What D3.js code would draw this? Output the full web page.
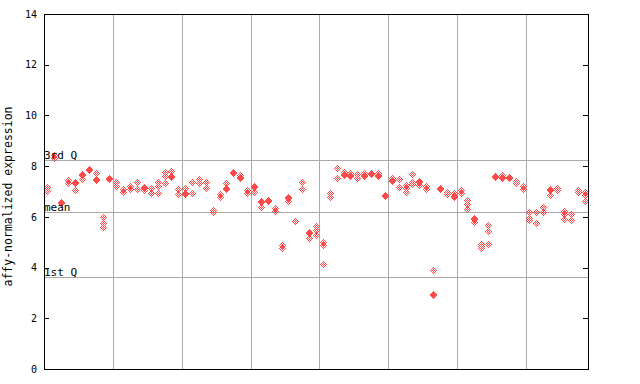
<!DOCTYPE html>
<html><head><meta charset="utf-8">
<script src="https://cdn.jsdelivr.net/npm/d3@7"></script>
<style>body{margin:0;background:#fff}svg{display:block}</style>
</head><body><div id="chart"></div>
<script>
const yTicks = [0, 2, 4, 6, 8, 10, 12, 14];
const refLabels = ["3rd Q", "mean", "1st Q"];
const refValues = [8.23, 6.21, 3.61];
const yTitle = "affy-normalized expression";

const group1 = [[7.19,7.03],[8.44,8.31],[6.6,6.56],[7.45,7.32],[7.37,7.33,7.06],[7.7,7.66,7.48],[7.87,7.83],[7.72,7.51,7.47],[5.98,5.75,5.61],[7.54,7.5]];
const group2 = [[7.36,7.23],[7.1,6.99],[7.22,7.09],[7.36,7.09],[7.18,7.14,7.06],[7.15,6.93],[7.38,7.22,6.93],[7.76,7.62,7.34],[7.82,7.6,7.56],[7.08,6.92]];
const group3 = [[7.12,6.95,6.91],[7.36,6.93],[7.49,7.32],[7.39,7.12],[6.28,6.18],[6.9,6.8],[7.32,7.12,7.08],[7.78,7.74],[7.65,7.57,7.53],[7.06,6.93]];
const group4 = [[7.21,7.17,6.97],[6.62,6.58,6.38],[6.65,6.61],[6.36,6.23],[4.88,4.76],[6.79,6.75,6.64],[5.84],[7.36,7.09],[5.4,5.36,5.15],[5.64,5.5,5.27]];
const group5 = [[5.02,4.88,4.13],[6.95,6.77],[7.91,7.52],[7.76,7.7,7.66],[7.72,7.64,7.6],[7.68,7.55],[7.72,7.64,7.6],[7.74,7.7],[7.72,7.64,7.6],[6.88,6.84]];
const group6 = [[7.52,7.47,7.43],[7.48,7.19],[7.26,7.12,6.99],[7.68,7.36,7.28],[7.43,7.39,7.26],[7.22,7.11],[3.9,2.95,2.91],[7.12,7.08],[6.99,6.89],[6.93,6.84,6.8]];
const group7 = [[7.06,6.95],[6.66,6.49,6.3],[5.94,5.9,5.81],[4.91,4.87,4.76],[5.68,5.44,4.92],[7.6,7.56],[7.65,7.57,7.53],[7.57,7.53],[7.41,7.32],[7.22,7.09]];
const group8 = [[6.18,5.94,5.86],[6.18,5.74],[6.38,6.2],[7.11,7.07,6.86],[7.15,7.06],[6.23,6.11,5.9],[6.1,5.88],[7.04,7.0],[6.97,6.86,6.63]];

const groups = [group1, group2, group3, group4, group5, group6, group7, group8];
const samples = groups.flat();
const groupStarts = [];
{ let s = 0; groups.forEach(g => { groupStarts.push(s); s += g.length; }); }

const W = 640, H = 384;
const L = 44, R = 588, T = 14, B = 369;
const color = "#ff4a4a";

const svg = d3.select("#chart").append("svg").attr("width", W).attr("height", H);
const x = d3.scaleLinear().domain([0, samples.length]).range([L, R]);
const y = d3.scaleLinear().domain([0, 14]).range([B, T]);

svg.append("g").selectAll("line").data(groupStarts.slice(1)).join("line")
  .attr("x1", d => Math.round(x(d)) + 0.5).attr("x2", d => Math.round(x(d)) + 0.5)
  .attr("y1", T).attr("y2", B).attr("stroke", "#aaaaaa").attr("stroke-width", 1)
  .attr("shape-rendering", "crispEdges");

svg.append("g").selectAll("line").data(refValues).join("line")
  .attr("x1", L).attr("x2", R)
  .attr("y1", d => Math.round(y(d)) + 0.5).attr("y2", d => Math.round(y(d)) + 0.5)
  .attr("stroke", "#aaaaaa").attr("stroke-width", 1).attr("shape-rendering", "crispEdges");

const offsets = [];
for (let dy = -3; dy <= 3; dy++) for (let dx = -3; dx <= 3; dx++)
  if (Math.abs(dx) + Math.abs(dy) <= 3 && (Math.abs(dx + dy) % 2 === 1)) offsets.push([dx, dy]);

const pts = [];
samples.forEach((vals, i) => vals.forEach(v => pts.push({ i, v })));
const pg = svg.append("g").attr("shape-rendering", "crispEdges").attr("fill", color);
pts.forEach(p => {
  const cx = Math.round(x(p.i + 0.5)), cy = Math.round(y(p.v));
  pg.append("g").selectAll("rect").data(offsets).join("rect")
    .attr("x", d => cx + d[0]).attr("y", d => cy + d[1])
    .attr("width", 1).attr("height", 1);
});

svg.append("g").selectAll("text").data(refValues).join("text")
  .attr("x", L).attr("y", d => Math.round(y(d)) - 1)
  .attr("font-family", "DejaVu Sans Mono").attr("font-size", 11).attr("fill", "#000")
  .text((d, i) => refLabels[i]);

svg.append("rect").attr("x", L + 0.5).attr("y", T + 0.5).attr("width", R - L).attr("height", B - T)
  .attr("fill", "none").attr("stroke", "#000").attr("shape-rendering", "crispEdges");

const ax = svg.append("g").attr("transform", `translate(${L},0)`)
  .call(d3.axisLeft(y).tickValues(yTicks).tickSize(-5).tickPadding(7).tickFormat(d3.format("d")));
ax.select(".domain").remove();
ax.selectAll("text").attr("font-family", "DejaVu Sans Mono").attr("font-size", 10).attr("fill", "#000");
ax.selectAll("line").attr("shape-rendering", "crispEdges");

const ar = svg.append("g").attr("transform", `translate(${R},0)`)
  .call(d3.axisRight(y).tickValues(yTicks).tickSize(-5).tickFormat(""));
ar.select(".domain").remove();
ar.selectAll("line").attr("shape-rendering", "crispEdges");

svg.append("text").attr("transform", `translate(12,${(T + B) / 2 + 5}) rotate(-90)`)
  .attr("text-anchor", "middle").attr("font-family", "DejaVu Sans Mono").attr("font-size", 11.5)
  .attr("fill", "#000").text(yTitle);
</script></body></html>
